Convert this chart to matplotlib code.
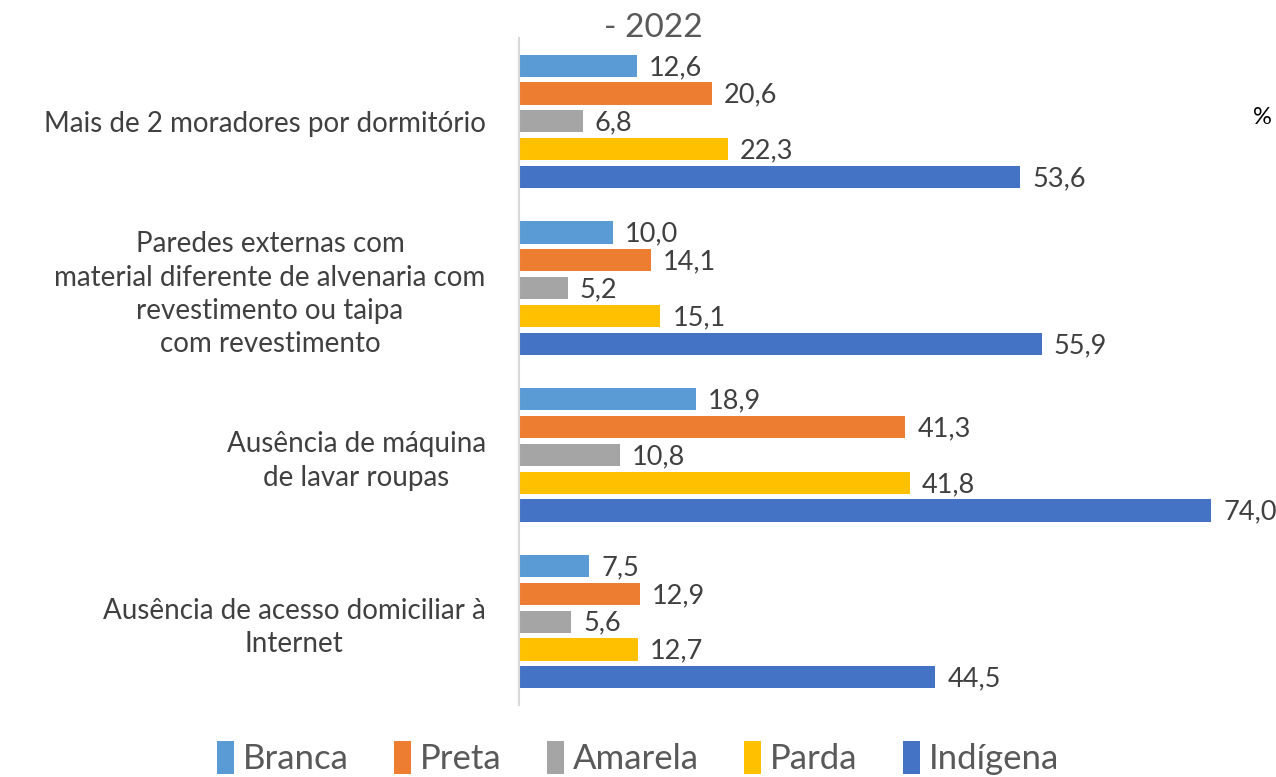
import numpy as np
import matplotlib
matplotlib.use('Agg')
import matplotlib.pyplot as plt

plt.rcParams['font.family'] = ['Lato', 'DejaVu Sans']

categories = ['Mais de 2 moradores por dormitório',
              'Paredes externas com\nmaterial diferente de alvenaria com\nrevestimento ou taipa\ncom revestimento',
              'Ausência de máquina\nde lavar roupas',
              'Ausência de acesso domiciliar à\nInternet']
series = ['Branca', 'Preta', 'Amarela', 'Parda', 'Indígena']
branca = [12.6, 10.0, 18.9, 7.5]
preta = [20.6, 14.1, 41.3, 12.9]
amarela = [6.8, 5.2, 10.8, 5.6]
parda = [22.3, 15.1, 41.8, 12.7]
indigena = [53.6, 55.9, 74.0, 44.5]
values = [branca, preta, amarela, parda, indigena]
colors = ['#5B9BD5', '#ED7D31', '#A5A5A5', '#FFC000', '#4472C4']

fig = plt.figure(figsize=(12.76, 7.77), dpi=100)
ax = fig.add_axes([519/1276, 72/777, 748/1276, 667/777])

y = np.arange(len(categories))
pitch = 1/6
for i, (name, vals, c) in enumerate(zip(series, values, colors)):
    pos = y + (i - 2) * pitch
    bars = ax.barh(pos, vals, height=0.8*pitch, color=c, label=name)
    for b, v in zip(bars, vals):
        ax.text(v + 1.3, b.get_y() + b.get_height()/2 + 0.01, '{:.1f}'.format(v).replace('.', ','),
                va='center', ha='left', fontsize=19.5, color='#404040')

ax.set_xlim(0, 80)
ax.set_ylim(3.5, -0.5)
ax.set_yticks(y)
ax.set_yticklabels(categories, fontsize=20, color='#404040', linespacing=1.35)
for t in ax.get_yticklabels():
    t.set_multialignment('center')
ax.tick_params(axis='y', length=0, pad=24)
ax.set_xticks([])
for s in ['top', 'right', 'bottom']:
    ax.spines[s].set_visible(False)
ax.spines['left'].set_color('#D9D9D9')
ax.spines['left'].set_linewidth(1.5)

fig.text(653/1276, 1 - 28/777, '- 2022', ha='center', va='center', fontsize=24, color='#595959')
fig.text(1262/1276, 1 - 118/777, '%', ha='center', va='center', fontsize=17, color='#000000')

fig.legend(loc='center', bbox_to_anchor=(0.5, 1 - 758/777), ncol=5, frameon=False,
           fontsize=25, labelcolor='#595959', handlelength=0.5, handleheight=1.1,
           handletextpad=0.25, columnspacing=1.3)

fig.savefig('out.png', dpi=100)
